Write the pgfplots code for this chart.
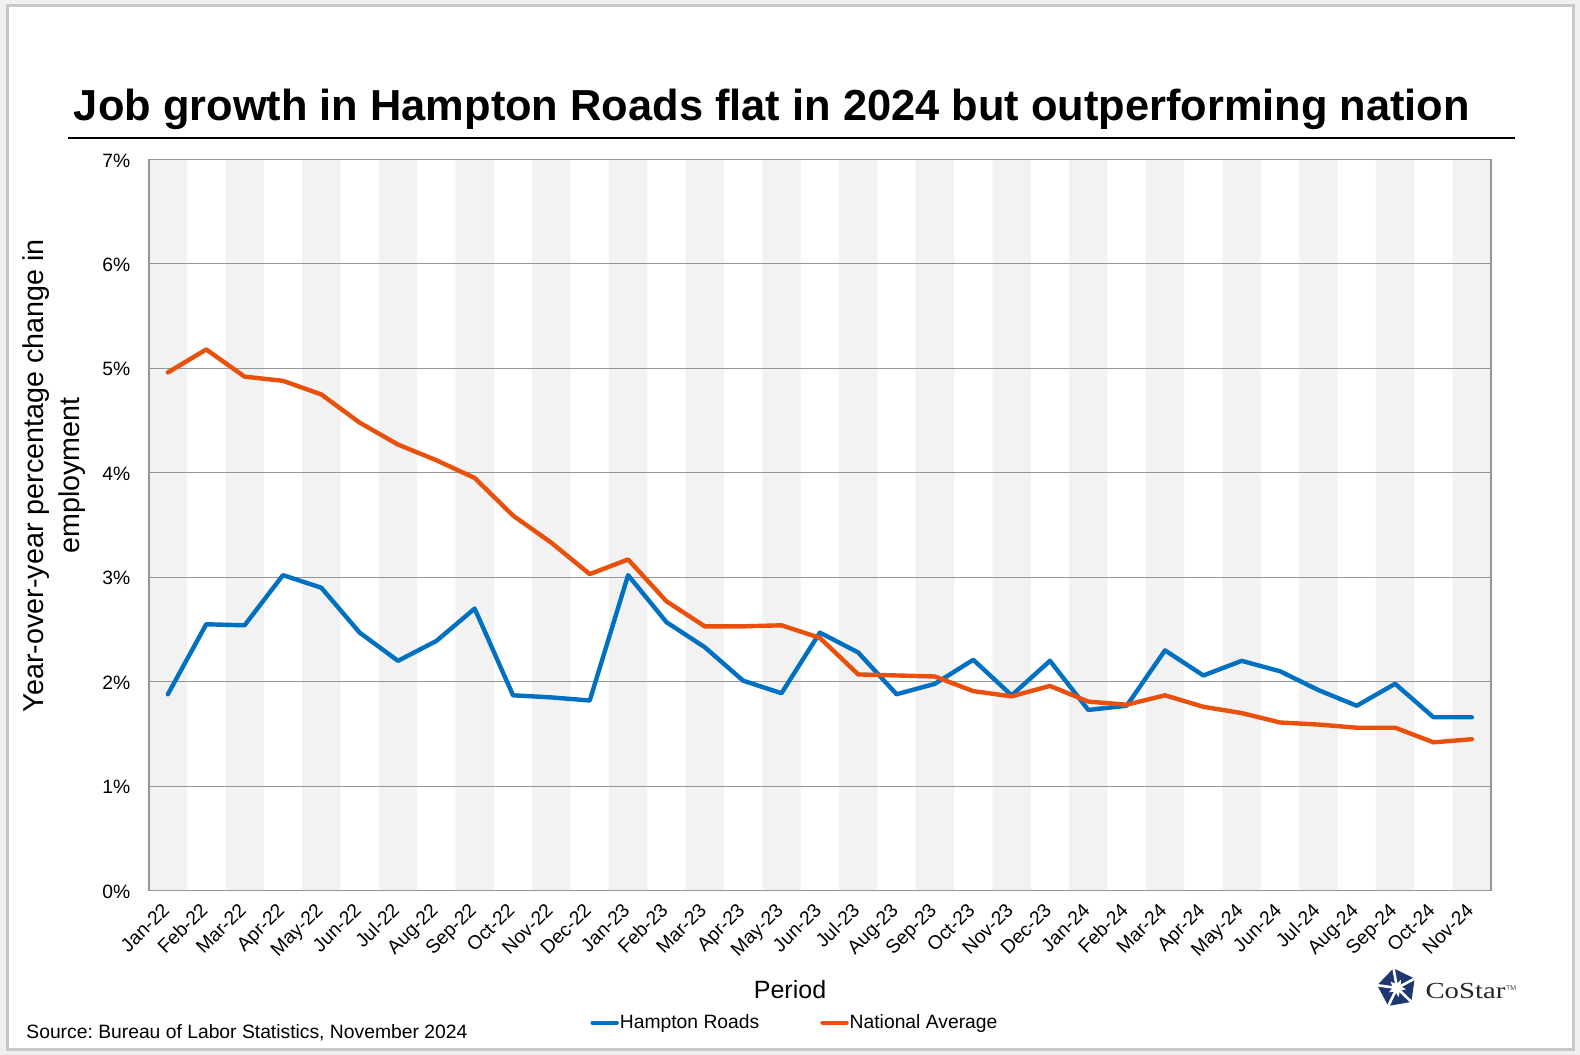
\documentclass[border=0pt]{standalone}
\usepackage{pgfplots}
\pgfplotsset{compat=1.18}
\usepackage{pgfplotstable}
\usepackage{fontspec}
\setmainfont{Liberation Sans}
\newfontfamily\seriffont{Liberation Serif}
\definecolor{hrblue}{RGB}{0,112,192}
\definecolor{naorange}{RGB}{232,80,12}
\definecolor{band}{RGB}{242,242,242}
\definecolor{gridc}{RGB}{150,150,150}
\definecolor{framec}{RGB}{200,200,200}
\definecolor{outbg}{RGB}{240,240,240}
\definecolor{navy}{RGB}{30,55,110}

\pgfplotstableread{
idx hr na
0 1.88 4.96
1 2.55 5.18
2 2.54 4.92
3 3.02 4.88
4 2.90 4.75
5 2.47 4.48
6 2.20 4.27
7 2.39 4.12
8 2.70 3.95
9 1.87 3.59
10 1.85 3.33
11 1.82 3.03
12 3.02 3.17
13 2.57 2.77
14 2.33 2.53
15 2.01 2.53
16 1.89 2.54
17 2.47 2.42
18 2.28 2.07
19 1.88 2.06
20 1.98 2.05
21 2.21 1.91
22 1.87 1.86
23 2.20 1.96
24 1.73 1.81
25 1.77 1.78
26 2.30 1.87
27 2.06 1.76
28 2.20 1.70
29 2.10 1.61
30 1.92 1.59
31 1.77 1.56
32 1.98 1.56
33 1.66 1.42
34 1.66 1.45
}\datatable

\begin{document}
\frenchspacing
\begin{tikzpicture}
% outer light-gray margin and frame
\fill[outbg, even odd rule] (0pt,0pt) rectangle (790pt,527.5pt) (3.75pt,2.5pt) rectangle (786.5pt,524.5pt);
\draw[framec, line width=1.5pt] (3.75pt,2.5pt) rectangle (786.5pt,524.5pt);
% title
\node[anchor=base west, inner sep=0pt, font=\fontsize{21.7pt}{26pt}\selectfont\bfseries] at (36.75pt,467pt) {Job growth in Hampton Roads flat in 2024 but outperforming nation};
\draw[black, line width=1.2pt] (34pt,458.4pt) -- (757.5pt,458.4pt);
\begin{axis}[
  set layers,
  scale only axis,
  width=671.15pt, height=365.7pt,
  at={(74.35pt,82.15pt)}, anchor=south west,
  xmin=-0.5, xmax=34.5, ymin=0, ymax=7,
  xtick={0,...,34},
  xticklabels={Jan-22,Feb-22,Mar-22,Apr-22,May-22,Jun-22,Jul-22,Aug-22,Sep-22,Oct-22,Nov-22,Dec-22,Jan-23,Feb-23,Mar-23,Apr-23,May-23,Jun-23,Jul-23,Aug-23,Sep-23,Oct-23,Nov-23,Dec-23,Jan-24,Feb-24,Mar-24,Apr-24,May-24,Jun-24,Jul-24,Aug-24,Sep-24,Oct-24,Nov-24},
  ytick={0,1,2,3,4,5,6,7},
  yticklabels={0\%,1\%,2\%,3\%,4\%,5\%,6\%,7\%},
  major tick length=0pt,
  ymajorgrids,
  major grid style={draw=gridc, line width=0.55pt},
  axis line style={draw=gridc, line width=0.8pt},
  xticklabel style={font=\fontsize{9.65pt}{11pt}\selectfont, shift={(-1pt,-7.9pt)}, rotate=45, anchor=east, inner sep=0pt, text height=6.9pt, text depth=0pt},
  yticklabel style={font=\fontsize{9.65pt}{11pt}\selectfont, shift={(-9pt,-0.4pt)}, anchor=east, inner sep=0pt, text height=6.9pt, text depth=0pt},
  xlabel={Period},
  xlabel style={at={(0.4778,-0.1352)}, anchor=center, inner sep=0pt, font=\fontsize{12.5pt}{15pt}\selectfont},
  ylabel={Year-over-year percentage change in\\employment},
  ylabel style={at={(-0.0702,0.5675)}, anchor=center, align=center, inner sep=0pt, font=\fontsize{14.35pt}{18pt}\selectfont},
  legend columns=2,
  legend style={at={(0.3291,-0.1806)}, anchor=west, draw=none, fill=none, inner sep=0pt, outer sep=0pt,
    font=\fontsize{9.65pt}{11pt}\selectfont, nodes={inner sep=0.5pt},
    /tikz/every even column/.append style={column sep=30pt}},
  legend image code/.code={\draw[#1, line width=2.1pt] (0pt,0pt) -- (12.1pt,0pt);},
]
\addplot[fill=band, draw=none, on layer=axis background, forget plot] coordinates {
(-0.5,0)(-0.5,7)(0.5,7)(0.5,0)
(1.5,0)(1.5,7)(2.5,7)(2.5,0)
(3.5,0)(3.5,7)(4.5,7)(4.5,0)
(5.5,0)(5.5,7)(6.5,7)(6.5,0)
(7.5,0)(7.5,7)(8.5,7)(8.5,0)
(9.5,0)(9.5,7)(10.5,7)(10.5,0)
(11.5,0)(11.5,7)(12.5,7)(12.5,0)
(13.5,0)(13.5,7)(14.5,7)(14.5,0)
(15.5,0)(15.5,7)(16.5,7)(16.5,0)
(17.5,0)(17.5,7)(18.5,7)(18.5,0)
(19.5,0)(19.5,7)(20.5,7)(20.5,0)
(21.5,0)(21.5,7)(22.5,7)(22.5,0)
(23.5,0)(23.5,7)(24.5,7)(24.5,0)
(25.5,0)(25.5,7)(26.5,7)(26.5,0)
(27.5,0)(27.5,7)(28.5,7)(28.5,0)
(29.5,0)(29.5,7)(30.5,7)(30.5,0)
(31.5,0)(31.5,7)(32.5,7)(32.5,0)
(33.5,0)(33.5,7)(34.5,7)(34.5,0)
};
\addplot[hrblue, line width=2.2pt, line join=round, line cap=round] table[x=idx,y=hr]{\datatable};
\addlegendentry{Hampton Roads}
\addplot[naorange, line width=2.2pt, line join=round, line cap=round] table[x=idx,y=na]{\datatable};
\addlegendentry{National Average}
\end{axis}
% source
\node[anchor=base west, inner sep=0pt, font=\fontsize{9.65pt}{11pt}\selectfont] at (13pt,8.25pt) {Source: Bureau of Labor Statistics, November 2024};
% CoStar logo
\begin{scope}[shift={(698.5pt,33.5pt)}]
\fill[navy] (100:10pt) -- (172:10pt) -- (244:10pt) -- (316:10pt) -- (28:10pt) -- cycle;
\fill[white] (136:4.6pt) -- (100:2pt) -- (64:4.6pt) -- (28:2pt) -- (352:4.6pt) -- (316:2pt) -- (280:4.6pt) -- (244:2pt) -- (208:4.6pt) -- (172:2pt) -- cycle;
\foreach \a in {100,172,244,316,28} {\draw[white, line width=1.3pt] (\a:1.8pt) -- (\a:11pt);}
\end{scope}
\node[anchor=base west, inner sep=0pt, xscale=1.25, font=\seriffont\fontsize{11.5pt}{13pt}\selectfont, text=black!85] at (712.5pt,28.35pt) {CoStar};
\node[anchor=base west, inner sep=0pt, font=\fontsize{3.5pt}{4pt}\selectfont, text=black!70] at (752.8pt,32.3pt) {TM};
\pgfresetboundingbox
\path[use as bounding box] (0pt,0pt) rectangle (790pt,527.5pt);
\end{tikzpicture}
\end{document}
